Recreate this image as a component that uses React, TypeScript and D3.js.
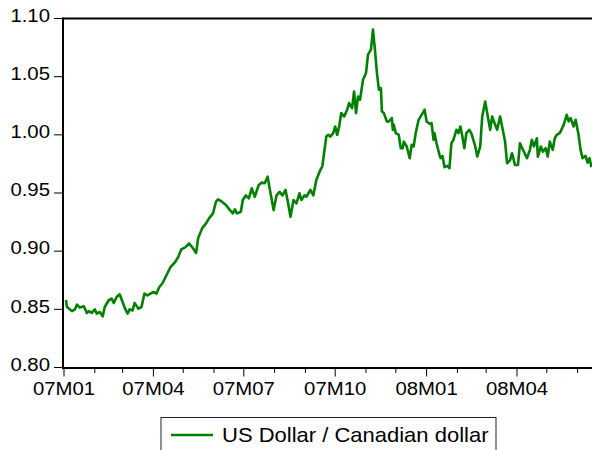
import React from "react";
import * as d3 from "d3";

const dates: string[] = [
  "2007-01-03","2007-01-04","2007-01-09","2007-01-12","2007-01-14","2007-01-17","2007-01-21","2007-01-24","2007-01-26","2007-01-29",
  "2007-02-01","2007-02-03","2007-02-06","2007-02-09","2007-02-11","2007-02-15","2007-02-18","2007-02-20","2007-02-23","2007-02-26",
  "2007-03-01","2007-03-03","2007-03-06","2007-03-08","2007-03-11","2007-03-13","2007-03-17","2007-03-20","2007-03-23","2007-03-26","2007-03-29",
  "2007-04-01","2007-04-04","2007-04-07","2007-04-10","2007-04-15","2007-04-18","2007-04-23","2007-04-26","2007-04-29",
  "2007-05-03","2007-05-07","2007-05-11","2007-05-14","2007-05-16","2007-05-20","2007-05-24","2007-05-27","2007-05-31",
  "2007-06-03","2007-06-05","2007-06-09","2007-06-13","2007-06-17","2007-06-20","2007-06-22","2007-06-24","2007-06-28","2007-06-30",
  "2007-07-03","2007-07-06","2007-07-09","2007-07-12","2007-07-16","2007-07-19","2007-07-22","2007-07-25","2007-07-27","2007-07-31",
  "2007-08-03","2007-08-06","2007-08-09","2007-08-12","2007-08-14","2007-08-17","2007-08-20","2007-08-23","2007-08-26","2007-08-28","2007-08-31",
  "2007-09-02","2007-09-06","2007-09-09","2007-09-12","2007-09-16","2007-09-18","2007-09-22","2007-09-24","2007-09-26","2007-09-29",
  "2007-10-01","2007-10-03","2007-10-05","2007-10-07","2007-10-10","2007-10-13","2007-10-15","2007-10-18","2007-10-20","2007-10-22","2007-10-24","2007-10-26","2007-10-29",
  "2007-11-01","2007-11-03","2007-11-06","2007-11-08","2007-11-10","2007-11-12","2007-11-14","2007-11-16","2007-11-17","2007-11-19","2007-11-22","2007-11-24","2007-11-27","2007-11-28","2007-11-29",
  "2007-12-01","2007-12-04","2007-12-06","2007-12-08","2007-12-09","2007-12-12","2007-12-15","2007-12-17","2007-12-19","2007-12-21","2007-12-24","2007-12-25","2007-12-29","2007-12-30",
  "2008-01-01","2008-01-04","2008-01-06","2008-01-08","2008-01-09","2008-01-11","2008-01-14","2008-01-15","2008-01-17","2008-01-19","2008-01-22","2008-01-24","2008-01-26","2008-01-28","2008-01-31",
  "2008-02-02","2008-02-04","2008-02-06","2008-02-08","2008-02-10","2008-02-13","2008-02-15","2008-02-19","2008-02-21","2008-02-24","2008-02-26","2008-02-29",
  "2008-03-02","2008-03-05","2008-03-07","2008-03-10","2008-03-12","2008-03-15","2008-03-17","2008-03-20","2008-03-22","2008-03-25","2008-03-27","2008-03-30",
  "2008-04-02","2008-04-04","2008-04-07","2008-04-11","2008-04-14","2008-04-16","2008-04-18","2008-04-21","2008-04-22","2008-04-25","2008-04-27","2008-04-30",
  "2008-05-02","2008-05-04","2008-05-07","2008-05-09","2008-05-11","2008-05-14","2008-05-18","2008-05-21","2008-05-23","2008-05-25","2008-05-28","2008-05-30",
  "2008-06-02","2008-06-04","2008-06-06","2008-06-09","2008-06-11","2008-06-13","2008-06-15",
];

const values: number[] = [
  0.858,0.852,0.8485,0.850,0.854,0.8515,0.8526,0.8468,0.8485,0.847,
  0.850,0.8463,0.8477,0.844,0.852,0.8578,0.8592,0.8554,0.8606,0.8629,
  0.8563,0.8515,0.8463,0.850,0.849,0.8554,0.8506,0.852,0.8635,0.862,0.8635,
  0.8649,0.8635,0.8692,0.8722,0.8808,0.886,0.8908,0.895,0.9015,
  0.9032,0.9066,0.9023,0.8985,0.911,0.9196,0.9239,0.9282,0.9325,
  0.9425,0.9446,0.9425,0.9397,0.9353,0.9325,0.9359,0.9325,0.9339,0.944,
  0.948,0.9454,0.954,0.9468,0.9569,0.9589,0.9584,0.964,0.954,0.9353,
  0.948,0.951,0.948,0.9526,0.944,0.9296,0.944,0.941,0.9497,0.944,0.948,
  0.9468,0.9526,0.948,0.9612,0.9698,0.9727,0.9985,1.000,0.9985,1.0014,
  1.0072,1.000,1.0072,1.0187,1.0158,1.0216,1.0273,1.023,1.0373,1.0187,1.033,1.0302,1.0474,
  1.0531,1.069,1.0733,1.0905,1.0733,1.0531,1.0388,1.0402,1.020,1.0187,1.0115,1.0115,1.0144,1.0043,1.0086,
  1.0014,1.000,0.9885,0.9885,0.9942,0.990,0.9799,0.9914,0.990,1.0014,1.0129,1.0144,1.020,1.0216,
  1.0115,1.0095,1.010,0.9957,1.0014,0.9928,0.9828,0.9799,0.9819,0.9722,0.9733,0.9713,0.9928,0.9957,1.0043,
  1.0014,1.0072,0.9985,0.9885,1.0014,1.0043,1.0014,0.990,0.9813,0.990,1.0158,1.0287,
  1.0187,1.0043,1.0158,1.0086,1.0043,1.0158,1.0072,0.9942,0.9756,0.978,0.9842,0.9741,
  0.9741,0.9928,0.9871,0.9799,0.9871,0.9957,0.990,0.997,0.9813,0.990,0.9856,0.9885,
  0.9813,0.9942,0.9871,0.997,1.000,1.0014,1.0086,1.0172,1.0115,1.0144,1.0072,1.0129,
  1.000,0.9871,0.9799,0.9819,0.976,0.9799,0.9722,
];

const yTicks: number[] = [0.8, 0.85, 0.9, 0.95, 1.0, 1.05, 1.1];
const seriesName = "US Dollar / Canadian dollar";

const W = 592;
const H = 450;
const left = 63;
const right = 592;
const top = 18.5;
const bottom = 367.5;
const FONT = "'Liberation Sans', Arial, sans-serif";
const FS = 18.5;
const LFS = 20;
const SX = 1.1;

export default function App() {
  const parse = d3.timeParse("%Y-%m-%d");
  const data = dates.map((d, i) => ({ date: parse(d) as Date, value: values[i] }));

  const x = d3
    .scaleTime()
    .domain([new Date(2007, 0, 1), new Date(2008, 5, 15, 12)])
    .range([64, 592]);
  const y = d3.scaleLinear().domain([0.8, 1.1]).range([bottom, top]);

  const line = d3
    .line<{ date: Date; value: number }>()
    .x((d) => x(d.date))
    .y((d) => y(d.value));

  const months = d3.timeMonth.range(new Date(2007, 0, 1), new Date(2008, 5, 16));
  const fmt = (d: Date) =>
    d3.timeFormat("%y")(d) + "M" + d3.timeFormat("%m")(d);

  return (
    <svg
      width={W}
      height={H}
      style={{ position: "absolute", left: 0, top: 0, background: "#fff" }}
      fontFamily={FONT}
    >
      <rect x={0} y={0} width={W} height={H} fill="#fff" />
      {/* data line */}
      <path d={line(data) || ""} fill="none" stroke="#008000" strokeWidth={2.6} strokeLinejoin="round" />
      {/* frame */}
      <line x1={left} x2={right} y1={top} y2={top} stroke="#000" strokeWidth={2} />
      <line x1={left} x2={right} y1={bottom + 0.5} y2={bottom + 0.5} stroke="#000" strokeWidth={2} />
      <line x1={left} x2={left} y1={top - 1} y2={bottom + 1.5} stroke="#000" strokeWidth={2} />
      {/* y ticks */}
      {yTicks.map((t) => (
        <g key={t}>
          <line x1={left - 9} x2={left} y1={y(t)} y2={y(t)} stroke="#000" strokeWidth={1} />
          <text
            transform={`translate(50,${y(t) + 3.3}) scale(${SX},1)`}
            textAnchor="end"
            fontSize={FS}
            fill="#000"
          >
            {d3.format(".2f")(t)}
          </text>
        </g>
      ))}
      {/* x ticks */}
      {months.map((m) => {
        const major = m.getMonth() % 3 === 0;
        const xx = x(m);
        return (
          <g key={m.getTime()}>
            <line
              x1={xx}
              x2={xx}
              y1={bottom}
              y2={bottom + (major ? 9 : 5.5)}
              stroke="#000"
              strokeWidth={1}
            />
            {major && (
              <text
                transform={`translate(${xx},395) scale(${SX},1)`}
                textAnchor="middle"
                fontSize={FS}
                fill="#000"
              >
                {fmt(m)}
              </text>
            )}
          </g>
        );
      })}
      {/* legend */}
      <rect x={161} y={417.5} width={335} height={50} fill="none" stroke="#222" strokeWidth={1} />
      <line x1={171} x2={213} y1={435} y2={435} stroke="#008000" strokeWidth={2.4} />
      <text transform={`translate(222,441.5) scale(${SX},1)`} fontSize={LFS} fill="#000">
        {seriesName}
      </text>
    </svg>
  );
}
